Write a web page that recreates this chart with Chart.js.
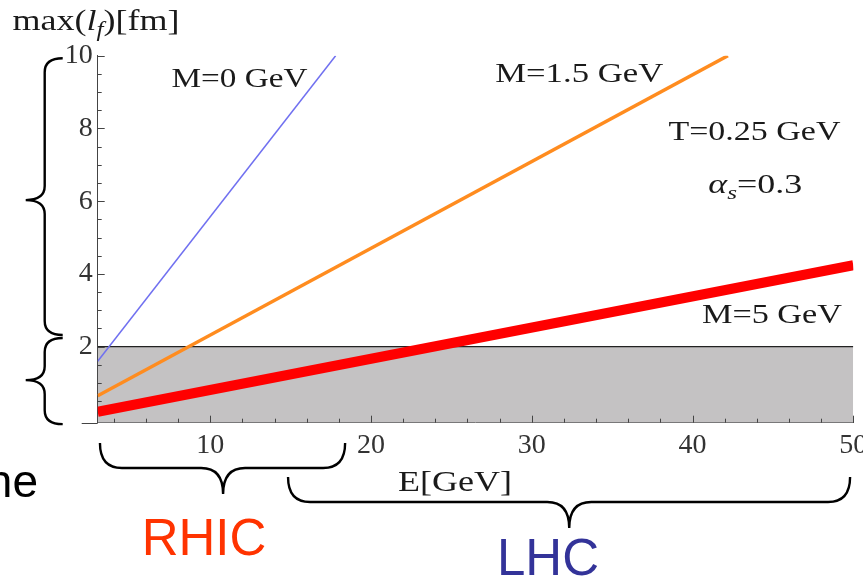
<!DOCTYPE html>
<html>
<head>
<meta charset="utf-8">
<script src="https://cdn.jsdelivr.net/npm/chart.js"></script>
<style>
  body { margin: 0; background: #fff; }
  #wrap { width: 863px; height: 577px; position: relative; }
</style>
</head>
<body>
<div id="wrap"><canvas id="lf-chart" width="863" height="577"></canvas></div>
<script>
// E [GeV] and max(l_f) [fm]
const eM0 = [3, 17.8];
const lfM0 = [1.6, 10];
const eM15 = [3, 42.2];
const lfM15 = [0.65, 10];
const eM5 = [3, 50];
const lfM5 = [0.21, 4.24];
const bandE = [3, 50];
const bandLf = [2, 2];

const xTickLabels = [10, 20, 30, 40, 50];
const yTickLabels = [2, 4, 6, 8, 10];
const xMinorStep = 2;
const yMinorStep = 0.5;

const serif = "'Liberation Serif', 'Times New Roman', serif";
const sans = "'Liberation Sans', Arial, sans-serif";

function pts(xs, ys) {
    return xs.map((x, i) => ({ x: x, y: ys[i] }));
}

// text annotations, placed in data coordinates (x = E, y = l_f, baseline)
const notes = [
    { parts: [{ t: 'M=0 GeV' }], x: 11.82, y: 9.14, w: 136 },
    { parts: [{ t: 'M=1.5 GeV' }], x: 32.95, y: 9.27, w: 168 },
    { parts: [{ t: 'T=0.25 GeV' }], x: 43.85, y: 7.68, w: 172 },
    { parts: [{ t: 'α', it: true }, { t: 's', it: true, sub: true }, { t: '=0.3' }], x: 43.9, y: 6.22, w: 94 },
    { parts: [{ t: 'M=5 GeV' }], x: 44.94, y: 2.64, w: 140 }
];

// braces: span in data units, tip position
const vBraces = [
    { y1: 9.93, y2: 2.32, tip: 6.03 },
    { y1: 2.24, y2: -0.13, tip: 1.08 }
];
const hBraces = [
    { x1: 3.14, x2: 18.39, tip: 10.8, y: 443 },
    { x1: 14.84, x2: 49.8, tip: 32.33, y: 477 }
];

function drawRich(ctx, parts, cx, baseY, width, size) {
    let total = 0;
    const widths = parts.map(p => {
        ctx.font = (p.it ? 'italic ' : '') + (p.sub ? size * 0.7 : size) + 'px ' + serif;
        const w = ctx.measureText(p.t).width;
        total += w;
        return w;
    });
    const sx = width / total;
    ctx.save();
    ctx.translate(cx - width / 2, baseY);
    ctx.scale(sx, 1);
    let x = 0;
    parts.forEach((p, i) => {
        ctx.font = (p.it ? 'italic ' : '') + (p.sub ? size * 0.7 : size) + 'px ' + serif;
        ctx.fillText(p.t, x, p.sub ? size * 0.22 : 0);
        x += widths[i];
    });
    ctx.restore();
}

function vBrace(ctx, xe, xs, xt, y1, y2, yt) {
    const r = 14;
    ctx.beginPath();
    ctx.moveTo(xe, y1);
    ctx.quadraticCurveTo(xs, y1, xs, y1 + r);
    ctx.lineTo(xs, yt - r);
    ctx.quadraticCurveTo(xs, yt, xt, yt);
    ctx.quadraticCurveTo(xs, yt, xs, yt + r);
    ctx.lineTo(xs, y2 - r);
    ctx.quadraticCurveTo(xs, y2, xe, y2);
    ctx.stroke();
}

function hBrace(ctx, x1, x2, xt, ye, ys, yt) {
    const r = 22;
    ctx.beginPath();
    ctx.moveTo(x1, ye);
    ctx.quadraticCurveTo(x1, ys, x1 + r, ys);
    ctx.lineTo(xt - r, ys);
    ctx.quadraticCurveTo(xt, ys, xt, yt);
    ctx.quadraticCurveTo(xt, ys, xt + r, ys);
    ctx.lineTo(x2 - r, ys);
    ctx.quadraticCurveTo(x2, ys, x2, ye);
    ctx.stroke();
}

const decor = {
    id: 'decor',
    afterDraw(chart) {
        const ctx = chart.ctx;
        const xs = chart.scales.x, ys = chart.scales.y;
        const area = chart.chartArea;
        ctx.save();
        // inward tick marks
        ctx.strokeStyle = '#444';
        ctx.lineWidth = 1;
        ys.ticks.forEach(t => {
            const y = Math.round(ys.getPixelForValue(t.value)) + 0.5;
            const len = yTickLabels.includes(t.value) ? 7 : 4;
            ctx.beginPath();
            ctx.moveTo(area.left, y);
            ctx.lineTo(area.left + len, y);
            ctx.stroke();
        });
        xs.ticks.forEach(t => {
            const x = Math.round(xs.getPixelForValue(t.value)) + 0.5;
            const len = xTickLabels.includes(t.value) ? 7 : 4;
            ctx.beginPath();
            ctx.moveTo(x, area.bottom);
            ctx.lineTo(x, area.bottom - len);
            ctx.stroke();
        });
        // x axis stub left of the y axis
        ctx.beginPath();
        ctx.moveTo(area.left - 16, Math.round(area.bottom) + 0.5);
        ctx.lineTo(area.left, Math.round(area.bottom) + 0.5);
        ctx.stroke();

        // annotations
        ctx.fillStyle = '#1a1a1a';
        ctx.textAlign = 'left';
        ctx.textBaseline = 'alphabetic';
        notes.forEach(n => {
            drawRich(ctx, n.parts, xs.getPixelForValue(n.x), ys.getPixelForValue(n.y), n.w, 27);
        });
        drawRich(ctx, [{ t: 'E[GeV]' }], xs.getPixelForValue(25.23), area.bottom + 68, 114, 30);
        drawRich(ctx, [{ t: 'max(' }, { t: 'l', it: true }, { t: 'f', it: true, sub: true }, { t: ')[fm]' }],
            96, 30, 167, 29);

        // braces
        ctx.strokeStyle = '#000';
        ctx.lineWidth = 2.4;
        vBraces.forEach(b => {
            vBrace(ctx, area.left - 35, area.left - 53, area.left - 72,
                ys.getPixelForValue(b.y1), ys.getPixelForValue(b.y2), ys.getPixelForValue(b.tip));
        });
        hBraces.forEach(b => {
            hBrace(ctx, xs.getPixelForValue(b.x1), xs.getPixelForValue(b.x2), xs.getPixelForValue(b.tip),
                b.y, b.y + 25, b.y + 51);
        });

        // slide labels
        ctx.textAlign = 'center';
        ctx.font = '51px ' + sans;
        ctx.fillStyle = '#ff3300';
        ctx.fillText('RHIC', 204, 555);
        ctx.fillStyle = '#333399';
        ctx.fillText('LHC', 548, 575);
        ctx.textAlign = 'right';
        ctx.fillStyle = '#000';
        ctx.font = '46px ' + sans;
        ctx.fillText('ne', 38, 497);
        ctx.restore();
    }
};

const ctx = document.getElementById('lf-chart').getContext('2d');
new Chart(ctx, {
    type: 'line',
    data: {
        datasets: [
            { label: 'M=0 GeV', data: pts(eM0, lfM0), borderColor: '#7070f0', borderWidth: 1.5, pointRadius: 0, fill: false },
            { label: 'M=1.5 GeV', data: pts(eM15, lfM15), borderColor: '#ff8c1f', borderWidth: 3.5, pointRadius: 0, fill: false },
            { label: 'M=5 GeV', data: pts(eM5, lfM5), borderColor: '#ff0000', borderWidth: 10, pointRadius: 0, fill: false, borderCapStyle: 'butt' },
            { label: 'band', data: pts(bandE, bandLf), borderColor: '#222', borderWidth: 1.2, backgroundColor: '#c4c2c3', pointRadius: 0, fill: 'start' }
        ]
    },
    options: {
        responsive: false,
        animation: false,
        layout: { padding: { left: 0, right: 9.7, top: 55.7, bottom: 114.3 } },
        plugins: { legend: { display: false }, tooltip: { enabled: false } },
        scales: {
            x: {
                type: 'linear',
                min: 3,
                max: 50,
                afterBuildTicks: s => {
                    const t = [];
                    for (let v = 4; v <= 50; v += xMinorStep) t.push({ value: v });
                    s.ticks = t;
                },
                afterFit: s => { s.height = 40; s.paddingLeft = 0; s.paddingRight = 0; },
                grid: { display: true, drawOnChartArea: false, drawTicks: false, color: 'transparent' },
                border: { display: true, color: '#444', width: 1 },
                ticks: {
                    autoSkip: false,
                    maxRotation: 0,
                    padding: 6,
                    color: '#333',
                    font: { family: serif, size: 28 },
                    callback: v => xTickLabels.includes(v) ? String(v) : ''
                }
            },
            y: {
                type: 'linear',
                min: -0.09,
                max: 10,
                afterBuildTicks: s => {
                    const t = [];
                    for (let v = yMinorStep; v <= 10; v += yMinorStep) t.push({ value: v });
                    s.ticks = t;
                },
                afterFit: s => { s.width = 97.7; s.paddingTop = 0; s.paddingBottom = 0; },
                grid: { display: true, drawOnChartArea: false, drawTicks: false, color: 'transparent' },
                border: { display: true, color: '#444', width: 1 },
                ticks: {
                    autoSkip: false,
                    padding: 5,
                    color: '#333',
                    font: { family: serif, size: 28 },
                    callback: v => yTickLabels.includes(v) ? String(v) : ''
                }
            }
        }
    },
    plugins: [decor]
});
</script>
</body>
</html>
